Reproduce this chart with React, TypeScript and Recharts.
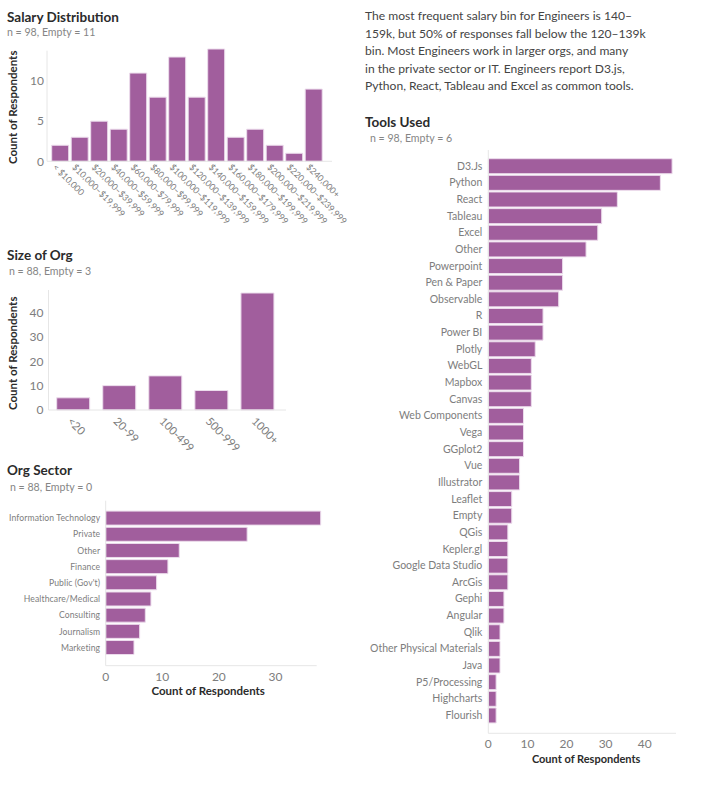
import React from "react";
import { BarChart, Bar, XAxis, YAxis } from "recharts";

const salaryBins = ["< $10,000","$10,000–$19,999","$20,000–$39,999","$40,000–$59,999","$60,000–$79,999","$80,000–$99,999","$100,000–$119,999","$120,000–$139,999","$140,000–$159,999","$160,000–$179,999","$180,000–$199,999","$200,000–$219,999","$220,000–$239,999","$240,000+"];
const salaryCounts = [2,3,5,4,11,8,13,8,14,3,4,2,1,9];
const orgSizes = ["<20","20-99","100-499","500-999","1000+"];
const orgSizeCounts = [5,10,14,8,48];
const sectors = ["Information Technology","Private","Other","Finance","Public (Gov't)","Healthcare/Medical","Consulting","Journalism","Marketing"];
const sectorCounts = [38,25,13,11,9,8,7,6,5];
const tools = ["D3.Js","Python","React","Tableau","Excel","Other","Powerpoint","Pen & Paper","Observable","R","Power BI","Plotly","WebGL","Mapbox","Canvas","Web Components","Vega","GGplot2","Vue","Illustrator","Leaflet","Empty","QGis","Kepler.gl","Google Data Studio","ArcGis","Gephi","Angular","Qlik","Other Physical Materials","Java","P5/Processing","Highcharts","Flourish"];
const toolCounts = [47,44,33,29,28,25,19,19,18,14,14,12,11,11,11,9,9,9,8,8,6,6,5,5,5,5,4,4,3,3,3,2,2,2];
const summaryLines = [
  "The most frequent salary bin for Engineers is 140–",
  "159k, but 50% of responses fall below the 120–139k",
  "bin. Most Engineers work in larger orgs, and many",
  "in the private sector or IT. Engineers report D3.js,",
  "Python, React, Tableau and Excel as common tools.",
];
const axisTitle = "Count of Respondents";

const FONT = "Lato, 'Open Sans', sans-serif";
const FILL = "#a15e9d";
const EDGE = "#ecdcec";
const AXIS = "#e6e6e6";
const TICK = "#7d7d7d";
const TITLE = "#2b2b2b";

const toRows = (names: string[], values: number[]) => names.map((name, i) => ({ name, value: values[i] }));

const Slanted = ({ x, y, payload, size, dx, dy }: any) => (
  <text x={x + dx} y={y + dy} transform={`rotate(45 ${x + dx} ${y + dy})`} fontSize={size} fill={TICK} fontFamily={FONT} textAnchor="start">
    {payload.value}
  </text>
);

const RowLabel = ({ x, y, payload, size, spacing }: any) => (
  <text x={x} y={y} dy="0.35em" fontSize={size} letterSpacing={spacing} fill={TICK} fontFamily={FONT} textAnchor="end">
    {payload.value}
  </text>
);

const Heading = ({ x, y, sx, sy, title, sub }: any) => (
  <>
    <div style={{ position: "absolute", left: x, top: y, font: `700 13.5px/18px ${FONT}`, color: TITLE, whiteSpace: "nowrap" }}>{title}</div>
    <div style={{ position: "absolute", left: sx, top: sy, font: `400 10.6px/14px ${FONT}`, color: "#858585", whiteSpace: "nowrap" }}>{sub}</div>
  </>
);

const Box = ({ left, top, children }: any) => <div style={{ position: "absolute", left, top }}>{children}</div>;

const axisLine = { stroke: AXIS, strokeWidth: 1 };
const titleStyle = (size: number) => ({ fontSize: size, fontWeight: 700, fill: TITLE, fontFamily: FONT });
const valueTick = { fontSize: 12, fill: TICK, fontFamily: FONT };

export default function App() {
  return (
    <div style={{ position: "absolute", left: 0, top: 0, width: 720, height: 791, background: "#fff", fontFamily: FONT, overflow: "hidden" }}>
      <Heading x={7} y={8} sx={7} sy={25} title="Salary Distribution" sub="n = 98, Empty = 11" />
      <Box left={0} top={40}>
        <BarChart width={362} height={200} data={toRows(salaryBins, salaryCounts)} margin={{ top: 10.7, right: 30, bottom: 0, left: 0 }} barCategoryGap={1.2}>
          <XAxis dataKey="name" interval={0} height={78.7} axisLine={axisLine} tickLine={false} padding={{ left: 3.5, right: 8.5 }}
            tick={<Slanted size={8.8} dx={-8} dy={-1.5} />} />
          <YAxis type="number" width={47} domain={[0, 14]} ticks={[0, 5, 10]} axisLine={axisLine} tickLine={false} tickSize={0} padding={{ top: -1.7, bottom: 0 }}
            tick={valueTick} tickMargin={3}
            label={{ value: axisTitle, angle: -90, position: "insideLeft", offset: 13, dy: 58, style: titleStyle(11.5) }} />
          <Bar dataKey="value" fill={FILL} stroke={EDGE} strokeWidth={1} isAnimationActive={false} />
        </BarChart>
      </Box>

      <Heading x={7} y={246} sx={9} sy={264} title="Size of Org" sub="n = 88, Empty = 3" />
      <Box left={0} top={280}>
        <BarChart width={350} height={180} data={toRows(orgSizes, orgSizeCounts)} margin={{ top: 10, right: 64, bottom: 0, left: 0 }} barCategoryGap={6.5}>
          <XAxis dataKey="name" interval={0} height={50} axisLine={axisLine} tickLine={false} padding={{ left: 1.7, right: 5.5 }}
            tick={<Slanted size={11.2} dx={-6.5} dy={4} />} />
          <YAxis type="number" width={48.5} domain={[0, 48]} ticks={[0, 10, 20, 30, 40]} axisLine={axisLine} tickLine={false} tickSize={0} padding={{ top: 3, bottom: 0 }}
            tick={valueTick} tickMargin={5}
            label={{ value: axisTitle, angle: -90, position: "insideLeft", offset: 13, dy: 60, style: titleStyle(11.5) }} />
          <Bar dataKey="value" fill={FILL} stroke={EDGE} strokeWidth={1} isAnimationActive={false} />
        </BarChart>
      </Box>

      <Heading x={7} y={461} sx={10} sy={480} title="Org Sector" sub="n = 88, Empty = 0" />
      <Box left={0} top={495}>
        <BarChart layout="vertical" width={350} height={205} data={toRows(sectors, sectorCounts)} margin={{ top: 5.7, right: 33.3, bottom: 0, left: 0 }} barCategoryGap={0.9}>
          <YAxis type="category" dataKey="name" width={105.7} interval={0} axisLine={axisLine} tickLine={false} tickSize={0} padding={{ top: 9.5, bottom: 9.9 }}
            tick={<RowLabel size={8.6} spacing={0.1} />} tickMargin={5.5} />
          <XAxis type="number" height={34.3} domain={[0, 38]} ticks={[0, 10, 20, 30]} axisLine={axisLine} tickLine={false} padding={{ left: 0, right: -4 }}
            tick={valueTick} tickMargin={1}
            label={{ value: axisTitle, position: "insideBottom", offset: 5, dx: -3, style: titleStyle(11.5) }} />
          <Bar dataKey="value" fill={FILL} stroke={EDGE} strokeWidth={1} isAnimationActive={false} />
        </BarChart>
      </Box>

      <div style={{ position: "absolute", left: 365, top: 7, font: `400 12.1px/17.5px ${FONT}`, color: "#444", whiteSpace: "nowrap" }}>
        {summaryLines.map((line) => <div key={line}>{line}</div>)}
      </div>

      <Heading x={365} y={113} sx={370} sy={131} title="Tools Used" sub="n = 98, Empty = 6" />
      <Box left={350} top={145}>
        <BarChart layout="vertical" width={370} height={625} data={toRows(tools, toolCounts)} margin={{ top: 5, right: 44, bottom: 0, left: 0 }} barCategoryGap={1}>
          <YAxis type="category" dataKey="name" width={138.3} interval={0} axisLine={axisLine} tickLine={false} tickSize={0} padding={{ top: 7.7, bottom: 9.7 }}
            tick={<RowLabel size={10.5} spacing={0} />} tickMargin={6} />
          <XAxis type="number" height={36.7} domain={[0, 48]} ticks={[0, 10, 20, 30, 40]} axisLine={axisLine} tickLine={false}
            tick={valueTick} tickMargin={0}
            label={{ value: axisTitle, position: "insideBottom", offset: 7, dx: 4, style: titleStyle(11) }} />
          <Bar dataKey="value" fill={FILL} stroke={EDGE} strokeWidth={1} isAnimationActive={false} />
        </BarChart>
      </Box>
    </div>
  );
}
